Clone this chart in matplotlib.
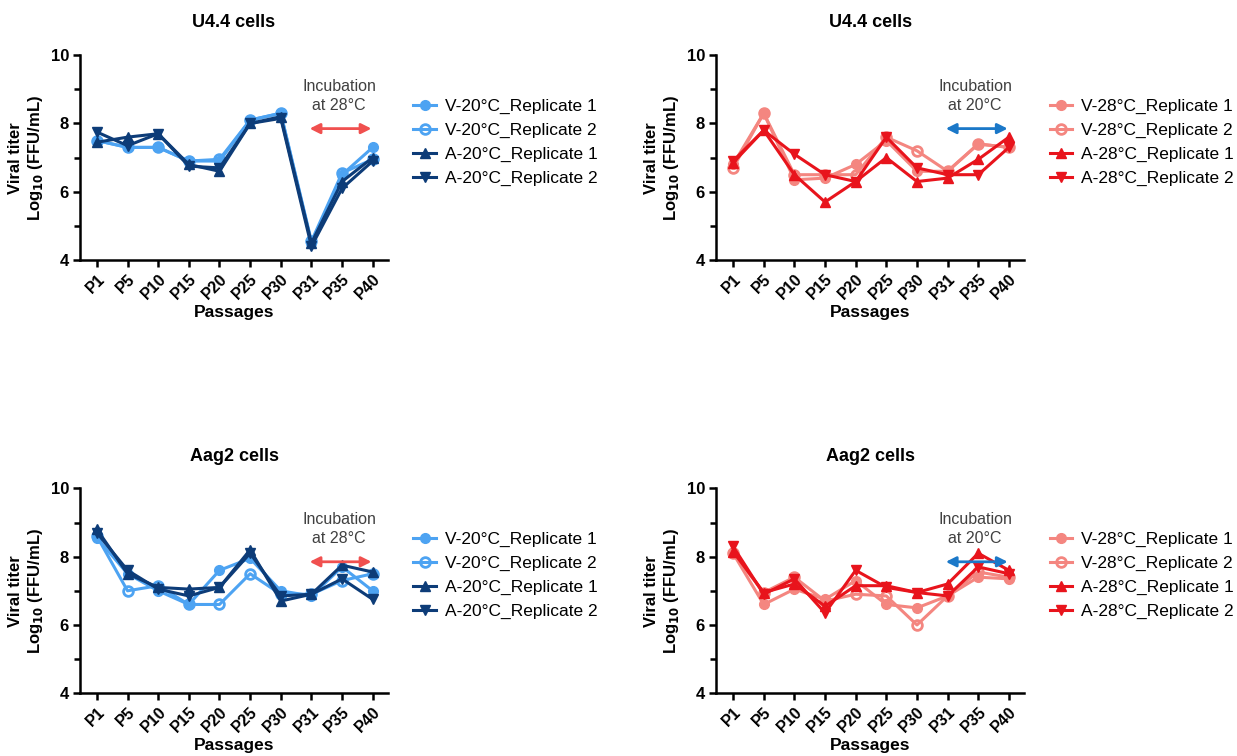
import matplotlib.pyplot as plt

plt.rcParams['font.family'] = ['Liberation Sans', 'DejaVu Sans']

passages = ['P1', 'P5', 'P10', 'P15', 'P20', 'P25', 'P30', 'P31', 'P35', 'P40']

# U4.4 cells, 20°C-adapted lineages
u44_v20_r1 = [7.5, 7.3, 7.3, 6.9, 6.9, 8.1, 8.3, 4.5, 6.5, 7.3]
u44_v20_r2 = [7.5, 7.3, 7.3, 6.9, 6.95, 8.1, 8.3, 4.55, 6.55, 6.95]
u44_a20_r1 = [7.45, 7.6, 7.7, 6.8, 6.6, 8.0, 8.2, 4.5, 6.3, 7.0]
u44_a20_r2 = [7.75, 7.35, 7.7, 6.75, 6.7, 8.0, 8.15, 4.4, 6.1, 6.9]

# U4.4 cells, 28°C-adapted lineages
u44_v28_r1 = [6.8, 8.3, 6.35, 6.4, 6.8, 7.5, 6.6, 6.6, 7.4, 7.3]
u44_v28_r2 = [6.7, 8.3, 6.5, 6.5, 6.5, 7.6, 7.2, 6.6, 7.4, 7.3]
u44_a28_r1 = [6.85, 7.8, 6.5, 5.7, 6.3, 7.0, 6.3, 6.4, 6.95, 7.6]
u44_a28_r2 = [6.9, 7.8, 7.1, 6.5, 6.3, 7.6, 6.7, 6.5, 6.5, 7.3]

# Aag2 cells, 20°C-adapted lineages
aag_v20_r1 = [8.55, 7.5, 7.0, 6.6, 7.6, 7.95, 7.0, 6.85, 7.7, 7.0]
aag_v20_r2 = [8.6, 7.0, 7.15, 6.6, 6.6, 7.5, 6.9, 6.9, 7.3, 7.5]
aag_a20_r1 = [8.8, 7.5, 7.1, 7.05, 7.1, 8.2, 6.7, 6.9, 7.75, 7.55]
aag_a20_r2 = [8.7, 7.6, 7.05, 6.85, 7.1, 8.1, 6.85, 6.9, 7.35, 6.75]

# Aag2 cells, 28°C-adapted lineages
aag_v28_r1 = [8.1, 6.6, 7.05, 6.75, 7.3, 6.6, 6.5, 6.85, 7.4, 7.35]
aag_v28_r2 = [8.1, 6.95, 7.4, 6.7, 6.9, 6.85, 6.0, 6.85, 7.55, 7.4]
aag_a28_r1 = [8.15, 6.95, 7.2, 6.55, 7.15, 7.15, 6.95, 7.2, 8.1, 7.6]
aag_a28_r2 = [8.3, 6.9, 7.35, 6.35, 7.6, 7.1, 6.95, 6.85, 7.7, 7.5]

LIGHT_BLUE = '#4DA3F2'
DARK_BLUE = '#0D3C78'
SALMON = '#F48680'
RED = '#E8141C'
ARROW_RED = '#F0504F'
ARROW_BLUE = '#1B78C8'


def draw_panel(fig, rect, title, series, labels, light, dark, inc_text, arrow_color):
    ax = fig.add_axes(rect)
    x = list(range(len(passages)))
    styles = [
        dict(color=light, marker='o', mfc=light),
        dict(color=light, marker='o', mfc='none', mew=2),
        dict(color=dark, marker='^', mfc=dark),
        dict(color=dark, marker='v', mfc=dark),
    ]
    for y, lab, st in zip(series, labels, styles):
        ax.plot(x, y, lw=2.2, ms=7, label=lab, **st)

    ax.set_xlim(-0.55, 9.5)
    ax.set_ylim(4, 10)
    ax.set_yticks([4, 6, 8, 10])
    ax.set_yticks([5, 7, 9], minor=True)
    ax.set_xticks(x)
    ax.set_xticklabels(passages, rotation=45, ha='right', rotation_mode='anchor',
                       fontweight='bold', fontsize=11.5)
    for t in ax.get_yticklabels():
        t.set_fontweight('bold')
        t.set_fontsize(12)
    ax.tick_params(width=1.8, length=5, direction='out', pad=3)
    ax.tick_params(which='minor', width=1.8, length=4)
    for s in ['top', 'right']:
        ax.spines[s].set_visible(False)
    for s in ['left', 'bottom']:
        ax.spines[s].set_linewidth(1.8)

    ax.set_title(title, fontsize=13, fontweight='bold', pad=20)
    ax.set_xlabel('Passages', fontsize=12.5, fontweight='bold', labelpad=2)
    ax.set_ylabel('Viral titer\nLog$_{\\mathbf{10}}$ (FFU/mL)', fontsize=12,
                  fontweight='bold', labelpad=4)

    ax.text(7.9, 8.8, inc_text, ha='center', va='center', fontsize=11.5,
            color='#404040', linespacing=1.35)
    ax.annotate('', xy=(9.05, 7.85), xytext=(6.85, 7.85),
                arrowprops=dict(arrowstyle='<|-|>', color=arrow_color, lw=2,
                                mutation_scale=15))

    ax.legend(loc='upper left', bbox_to_anchor=(1.06, 0.82), frameon=False,
              fontsize=12.5, handlelength=1.3, handletextpad=0.5,
              labelspacing=0.5, borderaxespad=0)
    return ax


fig = plt.figure(figsize=(12.37, 7.56), dpi=100)

lab20 = ['V-20°C_Replicate 1', 'V-20°C_Replicate 2', 'A-20°C_Replicate 1', 'A-20°C_Replicate 2']
lab28 = ['V-28°C_Replicate 1', 'V-28°C_Replicate 2', 'A-28°C_Replicate 1', 'A-28°C_Replicate 2']

w, h = 0.249, 0.271
draw_panel(fig, [0.0647, 0.656, w, h], 'U4.4 cells',
           [u44_v20_r1, u44_v20_r2, u44_a20_r1, u44_a20_r2], lab20,
           LIGHT_BLUE, DARK_BLUE, 'Incubation\nat 28°C', ARROW_RED)
draw_panel(fig, [0.579, 0.656, w, h], 'U4.4 cells',
           [u44_v28_r1, u44_v28_r2, u44_a28_r1, u44_a28_r2], lab28,
           SALMON, RED, 'Incubation\nat 20°C', ARROW_BLUE)
draw_panel(fig, [0.0647, 0.083, w, h], 'Aag2 cells',
           [aag_v20_r1, aag_v20_r2, aag_a20_r1, aag_a20_r2], lab20,
           LIGHT_BLUE, DARK_BLUE, 'Incubation\nat 28°C', ARROW_RED)
draw_panel(fig, [0.579, 0.083, w, h], 'Aag2 cells',
           [aag_v28_r1, aag_v28_r2, aag_a28_r1, aag_a28_r2], lab28,
           SALMON, RED, 'Incubation\nat 20°C', ARROW_BLUE)

fig.savefig('out.png', dpi=100)
